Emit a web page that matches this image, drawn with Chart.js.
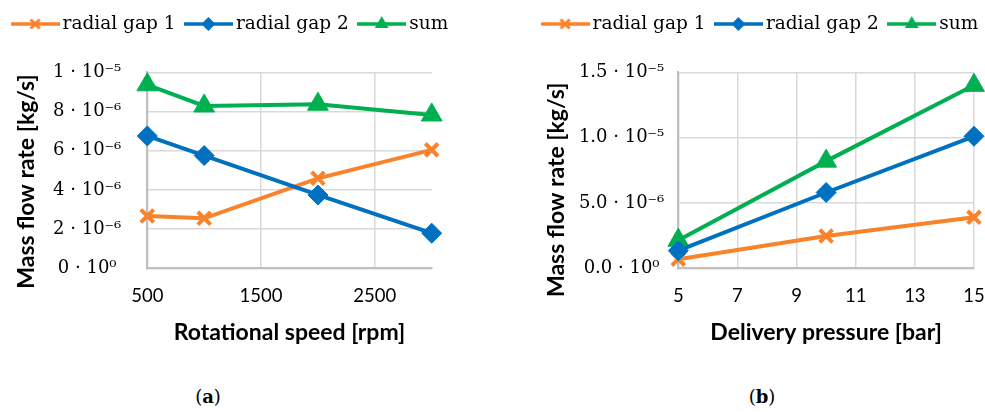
<!DOCTYPE html>
<html>
<head>
<meta charset="utf-8">
<script src="https://cdn.jsdelivr.net/npm/chart.js@4/dist/chart.umd.min.js"></script>
<style>
  html, body { margin: 0; padding: 0; background: #fff; width: 985px; height: 412px; overflow: hidden; }
  #wrap { position: relative; width: 985px; height: 412px; overflow: hidden; }
  #chartSpeed { position: absolute; left: 0; top: 0; }
  #chartPressure { position: absolute; left: 525px; top: 0; }
  .cap { position: absolute; top: 386px; font-family: "DejaVu Serif", serif; font-size: 18px; color: #000;
         transform: translateX(-50%); white-space: nowrap; }
</style>
</head>
<body>
<div id="wrap">
  <canvas id="chartSpeed" width="465" height="360"></canvas>
  <canvas id="chartPressure" width="475" height="360"></canvas>
  <div class="cap" style="left:208px">(<b>a</b>)</div>
  <div class="cap" style="left:762px">(<b>b</b>)</div>
</div>
<script>
// ---- Panel (a): mass flow rate against rotational speed ----
const speedRpm   = [500, 1000, 2000, 3000];
const gap1Speed  = [2.67e-6, 2.55e-6, 4.59e-6, 6.04e-6];
const gap2Speed  = [6.75e-6, 5.75e-6, 3.74e-6, 1.79e-6];
const sumSpeed   = [9.36e-6, 8.28e-6, 8.37e-6, 7.82e-6];
const speedTicks = [500, 1500, 2500];
const flowTicksA  = [0, 2e-6, 4e-6, 6e-6, 8e-6, 1e-5];
const flowLabelsA = ['0 · 10⁰', '2 · 10⁻⁶', '4 · 10⁻⁶', '6 · 10⁻⁶', '8 · 10⁻⁶', '1 · 10⁻⁵'];

// ---- Panel (b): mass flow rate against delivery pressure ----
const pressureBar   = [5, 10, 15];
const gap1Pressure  = [0.7e-6, 2.47e-6, 3.9e-6];
const gap2Pressure  = [1.35e-6, 5.8e-6, 10.1e-6];
const sumPressure   = [2.15e-6, 8.2e-6, 14.0e-6];
const pressureTicks = [5, 7, 9, 11, 13, 15];
const flowTicksB  = [0, 5e-6, 1e-5, 1.5e-5];
const flowLabelsB = ['0.0 · 10⁰', '5.0 · 10⁻⁶', '1.0 · 10⁻⁵', '1.5 · 10⁻⁵'];

const seriesNames = ['radial gap 1', 'radial gap 2', 'sum'];
const yAxisTitle  = 'Mass flow rate [kg/s]';

const COLORS  = ['#f9822b', '#0070c0', '#00b050'];
const SHAPES  = ['crossRot', 'rectRot', 'triangle'];
const RADII   = [9, 10, 12];
const PBORDER = [4, 1, 1];
const ORDER   = [1, 0, 2];

// Small line-plus-marker swatch used as the legend symbol
function legendGlyph(color, shape) {
  const c = document.createElement('canvas');
  c.width = 49; c.height = 22;
  const g = c.getContext('2d');
  const cx = 24.5, cy = 11;
  g.strokeStyle = color; g.fillStyle = color;
  g.lineWidth = 3.5;
  g.beginPath(); g.moveTo(0, cy); g.lineTo(49, cy); g.stroke();
  g.beginPath();
  if (shape === 'crossRot') {
    const r = 4.5; g.lineWidth = 3;
    g.moveTo(cx - r, cy - r); g.lineTo(cx + r, cy + r);
    g.moveTo(cx + r, cy - r); g.lineTo(cx - r, cy + r);
    g.stroke();
  } else if (shape === 'rectRot') {
    const r = 7;
    g.moveTo(cx, cy - r); g.lineTo(cx + r, cy); g.lineTo(cx, cy + r); g.lineTo(cx - r, cy);
    g.closePath(); g.fill();
  } else {
    const r = 8;
    g.moveTo(cx, cy - r); g.lineTo(cx + r * 0.866, cy + r / 2); g.lineTo(cx - r * 0.866, cy + r / 2);
    g.closePath(); g.fill();
  }
  return c;
}
const glyphs = COLORS.map((c, i) => legendGlyph(c, SHAPES[i]));

function makeDatasets(xs, seriesList) {
  return seriesList.map((ys, i) => ({
    label: seriesNames[i],
    data: xs.map((x, k) => ({ x: x, y: ys[k] })),
    borderColor: COLORS[i],
    backgroundColor: COLORS[i],
    borderWidth: 4,
    pointStyle: SHAPES[i],
    pointRadius: RADII[i],
    pointBorderWidth: PBORDER[i],
    pointBackgroundColor: COLORS[i],
    pointBorderColor: COLORS[i],
    tension: 0,
    clip: false,
    order: ORDER[i]
  }));
}

const TICK_FONT_Y = { family: '"DejaVu Serif", serif', size: 18 };
const TICK_FONT_X = { family: 'Lato, sans-serif', size: 18.5 };
const TITLE_FONT  = { family: 'Lato, sans-serif', size: 23, weight: 'bold' };

function buildChart(canvasId, cfg) {
  return new Chart(document.getElementById(canvasId), {
    type: 'line',
    data: { datasets: makeDatasets(cfg.xs, cfg.series) },
    options: {
      responsive: false,
      animation: false,
      events: [],
      layout: { padding: 0 },
      plugins: {
        tooltip: { enabled: false },
        legend: {
          position: 'top',
          labels: {
            usePointStyle: true,
            pointStyleWidth: 36.5,
            padding: 14.75,
            color: '#000',
            font: { family: '"DejaVu Serif", serif', size: 18.5 },
            generateLabels: (chart) => chart.data.datasets.map((ds, i) => ({
              text: ds.label,
              pointStyle: glyphs[i],
              fillStyle: ds.borderColor,
              strokeStyle: ds.borderColor,
              lineWidth: 0,
              hidden: false,
              datasetIndex: i
            }))
          }
        },
        // empty band that separates the legend from the plot area
        subtitle: {
          display: true, text: '', position: 'top', weight: 1,
          font: { size: 1, lineHeight: 1 }, padding: { top: 28, bottom: 0 }
        }
      },
      scales: {
        x: {
          type: 'linear',
          min: cfg.xMin, max: cfg.xMax,
          afterBuildTicks: (s) => { s.ticks = cfg.xTicks.map(v => ({ value: v })); },
          afterFit: (s) => { s.height = 360 - 268.3; s.paddingRight = cfg.padRight; },
          grid: { color: '#d9d9d9', lineWidth: 1.5, drawTicks: false },
          border: { color: '#bfbfbf', width: 2 },
          ticks: { color: '#000', font: TICK_FONT_X, padding: 17, maxRotation: 0,
                   callback: (v) => String(v) },
          title: { display: true, text: cfg.xTitle, color: '#000', font: TITLE_FONT,
                   padding: { top: 0, bottom: 13.2 } }
        },
        y: {
          type: 'linear',
          min: 0, max: cfg.yMax,
          afterBuildTicks: (s) => { s.ticks = cfg.yTicks.map(v => ({ value: v })); },
          afterFit: (s) => { s.width = cfg.yWidth; },
          grid: { color: '#d9d9d9', lineWidth: 1.5, drawTicks: false },
          border: { color: '#bfbfbf', width: 2 },
          ticks: {
            color: '#000', font: TICK_FONT_Y, padding: cfg.yTickPad, crossAlign: 'center',
            callback: (v, idx) => cfg.yLabels[idx]
          },
          title: { display: true, text: yAxisTitle + '\u00a0'.repeat(cfg.yTitleTail), color: '#000', font: TITLE_FONT,
                   padding: { top: cfg.yTitlePad, bottom: 0 } }
        }
      }
    }
  });
}

buildChart('chartSpeed', {
  xs: speedRpm, series: [gap1Speed, gap2Speed, sumSpeed],
  xMin: 500, xMax: 3000, xTicks: speedTicks,
  yMax: 1e-5, yTicks: flowTicksA, yLabels: flowLabelsA,
  xTitle: 'Rotational speed [rpm]',
  yWidth: 147.3, yTickPad: 26, yTitlePad: 13.2, yTitleTail: 4, padRight: 33.3
});

buildChart('chartPressure', {
  xs: pressureBar, series: [gap1Pressure, gap2Pressure, sumPressure],
  xMin: 5, xMax: 15, xTicks: pressureTicks,
  yMax: 1.5e-5, yTicks: flowTicksB, yLabels: flowLabelsB,
  xTitle: 'Delivery pressure [bar]',
  yWidth: 153.3, yTickPad: 14, yTitlePad: 18.2, yTitleTail: 7, padRight: 26
});
</script>
</body>
</html>
